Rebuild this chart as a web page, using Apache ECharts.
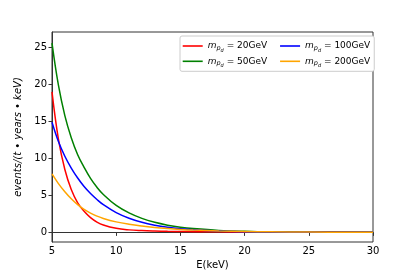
<!DOCTYPE html>
<html><head><meta charset="utf-8">
<script src="https://cdn.jsdelivr.net/npm/echarts@6/dist/echarts.min.js"></script>
<style>html,body{margin:0;padding:0;background:#fff}#c{width:415px;height:277px}</style>
</head><body><div id="c"></div>
<script>
var energies = [5, 5.5, 6, 6.5, 7, 7.5, 8, 8.5, 9, 10, 11, 12, 13, 14, 15, 16, 18, 20, 22, 25, 30];
var m20  = [19.0, 12.6, 8.5, 5.8, 4.0, 2.85, 2.0, 1.4, 1.0, 0.55, 0.34, 0.24, 0.18, 0.14, 0.12, 0.1, 0.08, 0.06, 0.05, 0.04, 0.03];
var m50  = [25.6, 19.9, 15.8, 12.8, 10.5, 8.8, 7.3, 6.1, 5.13, 3.65, 2.63, 1.89, 1.36, 0.98, 0.7, 0.51, 0.26, 0.14, 0.07, 0.03, 0.01];
var m100 = [14.9, 12.3, 10.3, 8.7, 7.35, 6.2, 5.25, 4.45, 3.75, 2.68, 1.92, 1.37, 0.98, 0.7, 0.5, 0.36, 0.18, 0.09, 0.05, 0.02, 0.01];
var m200 = [7.9, 6.6, 5.5, 4.55, 3.75, 3.1, 2.6, 2.2, 1.88, 1.42, 1.1, 0.86, 0.67, 0.52, 0.4, 0.31, 0.19, 0.12, 0.07, 0.04, 0.02];
var seriesNames = ['20', '50', '100', '200'];
var seriesValues = [m20, m50, m100, m200];
var seriesColors = ['#ff0000', '#008000', '#0000ff', '#ffa500'];
var xTicks = [5, 10, 15, 20, 25, 30];
var yTicks = [0, 5, 10, 15, 20, 25];

function pairs(vals) { return energies.map(function (e, i) { return [e, vals[i]]; }); }

var chart = echarts.init(document.getElementById('c'), null, {renderer: 'canvas'});
var font = 'DejaVu Sans';
var rich = {
  m: {fontStyle: 'italic', fontSize: 9, fontFamily: font, lineHeight: 12, color: '#000'},
  s1: {fontStyle: 'italic', fontSize: 6.5, fontFamily: font, lineHeight: 12, padding: [5, 0, 0, 0], color: '#000'},
  s2: {fontStyle: 'italic', fontSize: 5, fontFamily: font, lineHeight: 12, padding: [9, 0, 0, 0], color: '#000'},
  ta: {fontSize: 9, fontFamily: font, lineHeight: 12, color: '#000', width: 55},
  tb: {fontSize: 9, fontFamily: font, lineHeight: 12, color: '#000', width: 45}
};
var firstCol = {'20': true, '50': true};
chart.setOption({
  animation: false,
  grid: {left: 52, right: 42, top: 32, bottom: 35, show: true, borderColor: '#333', borderWidth: 1, backgroundColor: 'transparent'},
  xAxis: {
    type: 'value', min: 5, max: 30, interval: 5,
    name: 'E(keV)', nameLocation: 'middle', nameGap: 17,
    nameTextStyle: {fontFamily: font, fontSize: 10, color: '#000'},
    axisLine: {show: true, lineStyle: {color: '#333', width: 1}},
    axisTick: {show: true, length: 3.5, lineStyle: {color: '#333'}},
    axisLabel: {fontFamily: font, fontSize: 10, color: '#000', margin: 4},
    splitLine: {show: false}
  },
  yAxis: {
    type: 'value', min: -1.3, max: 27.1,
    name: 'events/(t \u2022 years \u2022 keV)', nameLocation: 'middle', nameGap: 24,
    nameTextStyle: {fontFamily: font, fontSize: 10, fontStyle: 'italic', color: '#000'},
    axisLine: {show: true, lineStyle: {color: '#333', width: 1}},
    axisTick: {show: true, length: 3.5, customValues: yTicks, lineStyle: {color: '#333'}},
    axisLabel: {fontFamily: font, fontSize: 10, color: '#000', margin: 5, customValues: yTicks},
    splitLine: {show: false}
  },
  legend: {
    orient: 'horizontal', left: 180, top: 36, width: 190,
    padding: [3, 4, 3, 2.7], itemGap: 1.3,
    itemWidth: 20, itemHeight: 1.6, icon: 'rect',
    backgroundColor: '#fff', borderColor: '#cccccc', borderWidth: 1, borderRadius: 2,
    data: ['20', '100', '50', '200'],
    formatter: function (n) { return '{m|m}{s1|p}{s2|d}{' + (firstCol[n] ? 'ta' : 'tb') + '| = ' + n + 'GeV}'; },
    textStyle: {rich: rich, fontSize: 9, fontFamily: font}
  },
  series: seriesNames.map(function (n, i) {
    return {
      name: n, type: 'line', data: pairs(seriesValues[i]),
      smooth: 0.4, showSymbol: false, symbol: 'none',
      lineStyle: {color: seriesColors[i], width: 1.5},
      itemStyle: {color: seriesColors[i]}, z: 2 + i
    };
  })
});
</script></body></html>
